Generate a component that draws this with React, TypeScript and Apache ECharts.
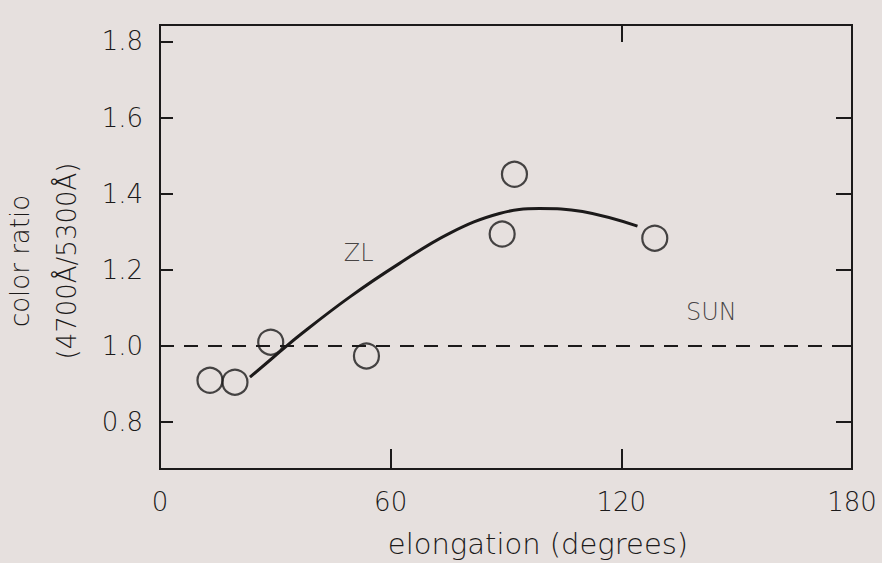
import React, { useEffect, useRef } from "react";
import * as echarts from "echarts";

// ---- data ----
const xTickLabels = [0, 60, 120, 180];
const yTickMarks = [0.8, 1.0, 1.2, 1.4, 1.6];
const obsElongation = [13.0, 19.5, 28.8, 53.7, 89.0, 92.2, 128.7];
const obsRatio = [0.91, 0.905, 1.01, 0.974, 1.294, 1.451, 1.283];
const zlElongation = [23.4, 31.2, 36.4, 49.4, 62.3, 75.3, 88.3, 98.7, 109.9, 124.2];
const zlRatio = [0.918, 0.985, 1.029, 1.129, 1.217, 1.296, 1.348, 1.361, 1.353, 1.315];
const sunElongation = [0, 180];
const sunRatio = [1.0, 1.0];
const labelNames = ["ZL", "SUN"];
const labelElongation = [51.7, 143.4];
const labelRatio = [1.243, 1.09];

const INK = "#1c1a1a";
const FONT = "DejaVu Sans";

export default function App() {
  const ref = useRef<HTMLDivElement>(null);
  useEffect(() => {
    if (!ref.current) return;
    const chart = echarts.init(ref.current, null, { renderer: "svg" });
    const yMin = 0.677;
    const yMax = 1.843;
    const textStyle = { color: INK, fontFamily: FONT, fontSize: 26, fontWeight: 200 as any };
    const line = { show: true, onZero: false, lineStyle: { color: INK, width: 2 } };
    chart.setOption({
      animation: false,
      backgroundColor: "#e6e0de",
      grid: {
        left: 160,
        right: 30,
        top: 25,
        bottom: 94,
        containLabel: false,
        outerBoundsMode: "none",
        show: true,
        borderColor: INK,
        borderWidth: 2,
        backgroundColor: "transparent",
      },
      xAxis: [
        {
          type: "value",
          position: "bottom",
          min: 0,
          max: 180,
          interval: 60,
          name: "elongation (degrees)",
          nameLocation: "middle",
          nameGap: 60,
          nameTextStyle: { ...textStyle, fontSize: 29, padding: [0, 0, 0, 64] },
          axisLine: line,
          splitLine: { show: false },
          axisTick: {
            show: true,
            inside: true,
            length: 20,
            customValues: [60, 120],
            lineStyle: { color: INK, width: 2 },
          },
          axisLabel: {
            ...textStyle,
            margin: 20,
            customValues: xTickLabels,
            formatter: (v: number) => String(v),
          },
        },
        {
          type: "value",
          position: "top",
          min: 0,
          max: 180,
          interval: 60,
          axisLine: line,
          splitLine: { show: false },
          axisTick: {
            show: true,
            inside: true,
            length: 17,
            customValues: [120],
            lineStyle: { color: INK, width: 2 },
          },
          axisLabel: { show: false, customValues: [120] },
        },
      ],
      yAxis: [
        {
          type: "value",
          position: "left",
          min: yMin,
          max: yMax,
          splitNumber: 5,
          name: "color ratio\n(4700Å/5300Å)",
          nameLocation: "middle",
          nameGap: 53,
          nameTextStyle: { ...textStyle, fontSize: 26, lineHeight: 47, padding: [0, 28, 0, 0] },
          axisLine: line,
          splitLine: { show: false },
          axisTick: {
            show: true,
            inside: true,
            length: 13,
            lineStyle: { color: INK, width: 2 },
          },
          axisLabel: {
            ...textStyle,
            margin: 17,
            showMinLabel: false,
            showMaxLabel: false,
            formatter: (v: number) => v.toFixed(1),
          },
        },
        {
          type: "value",
          position: "right",
          min: yMin,
          max: yMax,
          axisLine: line,
          splitLine: { show: false },
          axisTick: {
            show: true,
            inside: true,
            length: 16,
            customValues: yTickMarks,
            lineStyle: { color: INK, width: 2 },
          },
          axisLabel: { show: false, customValues: yTickMarks },
        },
      ],
      series: [
        {
          name: "SUN",
          type: "line",
          data: sunElongation.map((x, i) => [x, sunRatio[i]]),
          symbol: "none",
          lineStyle: { color: INK, width: 2, type: [14, 10] },
          silent: true,
        },
        {
          name: "ZL",
          type: "line",
          data: zlElongation.map((x, i) => [x, zlRatio[i]]),
          symbol: "none",
          smooth: 0.4,
          lineStyle: { color: INK, width: 3 },
          silent: true,
        },
        {
          name: "observations",
          type: "scatter",
          data: obsElongation.map((x, i) => [x, obsRatio[i]]),
          symbol: "circle",
          symbolSize: 25,
          itemStyle: { color: "rgba(0,0,0,0)", borderColor: INK, borderWidth: 2.2 },
          silent: true,
        },
        {
          name: "labels",
          type: "scatter",
          data: labelNames.map((n, i) => ({ name: n, value: [labelElongation[i], labelRatio[i]] })),
          symbolSize: 1,
          itemStyle: { color: "rgba(0,0,0,0)" },
          label: {
            show: true,
            position: "inside",
            formatter: (p: any) => p.name,
            color: INK,
            fontFamily: FONT,
            fontSize: 24,
            fontWeight: 200 as any,
          },
          silent: true,
        },
      ],
    });
    return () => chart.dispose();
  }, []);
  return (
    <div
      ref={ref}
      style={{ position: "fixed", left: 0, top: 0, width: 882, height: 563 }}
    />
  );
}
